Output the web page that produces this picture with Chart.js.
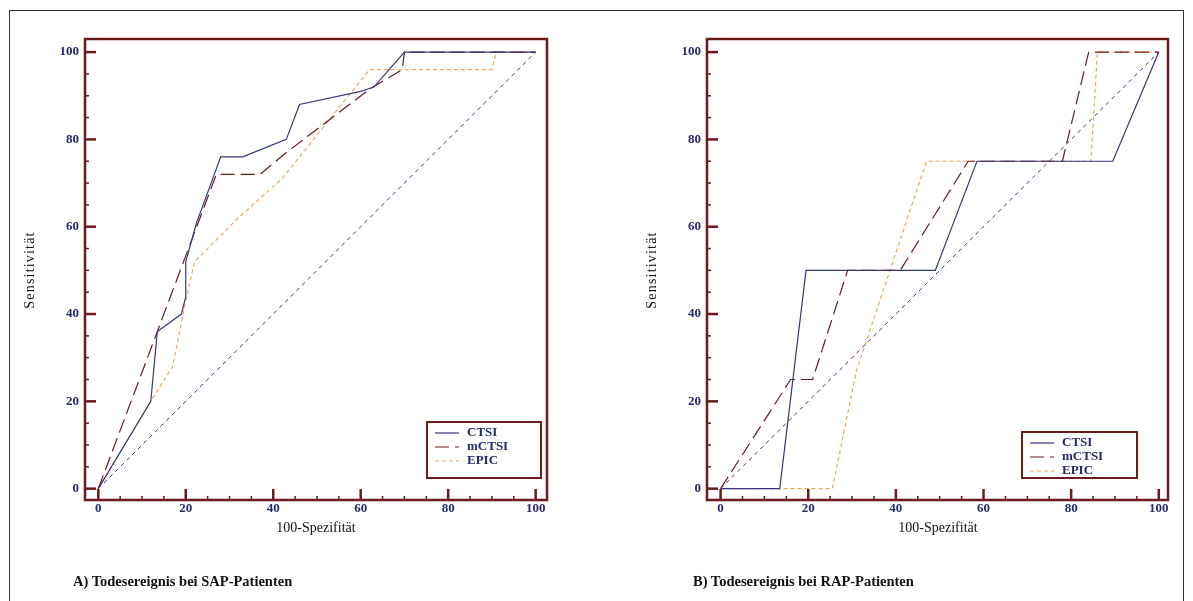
<!DOCTYPE html>
<html>
<head>
<meta charset="utf-8">
<title>ROC-Kurven Todesereignis</title>
<script src="https://cdn.jsdelivr.net/npm/chart.js"></script>
<style>
  body { margin: 0; background: #fff; font-family: "Liberation Serif", "DejaVu Serif", serif; }
  #frame { position: absolute; left: 9px; top: 10px; width: 1175px; height: 600px; border: 1px solid #333; box-sizing: border-box; }
  canvas { position: absolute; top: 0; }
  .xtitle, .ytitle { position: absolute; font-size: 14px; color: #111; width: 200px; text-align: center; line-height: 16px; }
  .ytitle { transform: rotate(-90deg); letter-spacing: 1.2px; }
  .caption { position: absolute; font-size: 14.5px; font-weight: bold; color: #111; line-height: 18px; }
</style>
</head>
<body>
  <div id="frame"></div>

  <canvas id="sapChart" width="596" height="601" style="left:0px"></canvas>
  <canvas id="rapChart" width="597" height="601" style="left:596px"></canvas>

  <!-- axis titles and captions -->
  <div class="ytitle" style="left:-70px; top:262px">Sensitivität</div>
  <div class="xtitle" style="left:216px; top:520px">100-Spezifität</div>
  <div class="caption" style="left:73px; top:572px">A) Todesereignis bei SAP-Patienten</div>

  <div class="ytitle" style="left:552px; top:262px">Sensitivität</div>
  <div class="xtitle" style="left:838px; top:520px">100-Spezifität</div>
  <div class="caption" style="left:693px; top:572px">B) Todesereignis bei RAP-Patienten</div>

<script>
  // ---- data ----
  const tickLabels = [0, 20, 40, 60, 80, 100];
  const tickMinor = [0, 5, 10, 15, 20, 25, 30, 35, 40, 45, 50, 55, 60, 65, 70, 75, 80, 85, 90, 95, 100];

  const seriesNames = ['CTSI', 'mCTSI', 'EPIC'];

  // A) SAP
  const sapCtsiX  = [0, 12, 13.5, 19, 20, 20, 22.5, 28, 33, 43, 46, 60, 63, 70, 100];
  const sapCtsiY  = [0, 20, 36, 40, 44, 52, 61, 76, 76, 80, 88, 91, 92, 100, 100];
  const sapMctsiX = [0, 13.5, 19.5, 27, 37, 43, 62, 69.5, 70, 100];
  const sapMctsiY = [0, 36, 52, 72, 72, 77, 91.5, 96, 100, 100];
  const sapEpicX  = [0, 12, 17, 20, 22, 24, 32, 42, 62, 90, 91, 100];
  const sapEpicY  = [0, 20, 28, 43, 52, 54, 62, 71, 96, 96, 100, 100];

  // B) RAP
  const rapCtsiX  = [0, 13.5, 19.5, 49, 58.5, 89.5, 100];
  const rapCtsiY  = [0, 0, 50, 50, 75, 75, 100];
  const rapMctsiX = [0, 16, 21, 29, 41, 56.5, 78, 84, 100];
  const rapMctsiY = [0, 25, 25, 50, 50, 75, 75, 100, 100];
  const rapEpicX  = [0, 25.5, 31, 47, 84.5, 86, 100];
  const rapEpicY  = [0, 0, 27, 75, 75, 100, 100];

  // reference diagonal
  const diagX = [0, 100];
  const diagY = [0, 100];

  // ---- styles ----
  const NAVY = '#33377f';
  const MAROON = '#6c1a1a';
  const ORANGE = '#f2a65a';
  const LABEL = '#262a6c';

  function pts(xs, ys) {
    return xs.map((x, i) => ({ x: x, y: ys[i] }));
  }

  // border, inward ticks and the boxed legend
  const framePlugin = {
    id: 'frame',
    afterDraw(chart, args, opts) {
      const ctx = chart.ctx;
      const a = chart.chartArea;
      const xs = chart.scales.x, ys = chart.scales.y;
      ctx.save();
      ctx.strokeStyle = MAROON;
      tickMinor.forEach(v => {
        const major = v % 20 === 0;
        const len = major ? 11 : 4;
        ctx.lineWidth = major ? 2.5 : 1.5;
        const px = xs.getPixelForValue(v);
        ctx.beginPath(); ctx.moveTo(px, a.bottom); ctx.lineTo(px, a.bottom - len); ctx.stroke();
        const py = ys.getPixelForValue(v);
        ctx.beginPath(); ctx.moveTo(a.left, py); ctx.lineTo(a.left + len, py); ctx.stroke();
      });
      ctx.lineWidth = 2.5;
      ctx.strokeRect(a.left, a.top, a.right - a.left, a.bottom - a.top);

      // legend
      const b = opts.box;
      ctx.fillStyle = '#fff';
      ctx.fillRect(b.left, b.top, b.width, b.height);
      ctx.lineWidth = 2;
      ctx.strokeRect(b.left, b.top, b.width, b.height);
      ctx.font = 'bold 13px "Liberation Serif", serif';
      ctx.textBaseline = 'middle';
      let row = 0;
      chart.data.datasets.forEach(ds => {
        if (!ds.label) return;
        const yy = b.top + b.first + row * 14;
        ctx.strokeStyle = ds.borderColor;
        ctx.lineWidth = ds.borderWidth;
        ctx.setLineDash(ds.borderDash || []);
        ctx.beginPath(); ctx.moveTo(b.left + 8, yy); ctx.lineTo(b.left + 32, yy); ctx.stroke();
        ctx.setLineDash([]);
        ctx.fillStyle = LABEL;
        ctx.fillText(ds.label, b.left + 40, yy);
        row++;
      });
      ctx.restore();
    }
  };

  function makePanel(id, ctsi, mctsi, epic, pad, xMin, xMax, box) {
    const datasets = [
      { label: seriesNames[0], data: ctsi, borderColor: NAVY, borderWidth: 1.2, borderDash: [] },
      { label: seriesNames[1], data: mctsi, borderColor: MAROON, borderWidth: 1.2, borderDash: [14, 6] },
      { label: seriesNames[2], data: epic, borderColor: ORANGE, borderWidth: 1.2, borderDash: [4, 3] },
      { label: '', data: pts(diagX, diagY), borderColor: NAVY, borderWidth: 1, borderDash: [4, 4] }
    ];
    datasets.forEach(d => { d.showLine = true; d.pointRadius = 0; d.tension = 0; d.fill = false; });

    const tickFont = { family: '"Liberation Serif", serif', size: 13, weight: 'bold' };

    return new Chart(document.getElementById(id), {
      type: 'scatter',
      data: { datasets: datasets },
      plugins: [framePlugin],
      options: {
        responsive: false,
        animation: false,
        layout: { padding: { left: pad.left, right: pad.right, top: 39, bottom: 0 } },
        plugins: {
          legend: { display: false },
          tooltip: { enabled: false },
          frame: { box: box }
        },
        scales: {
          x: {
            type: 'linear', min: xMin, max: xMax,
            afterBuildTicks: s => { s.ticks = tickLabels.map(v => ({ value: v })); },
            afterFit: s => { s.height = 101; },
            grid: { display: false, drawTicks: false, tickLength: 0 },
            border: { display: false },
            ticks: { color: LABEL, padding: 1, maxRotation: 0, autoSkip: false, font: tickFont }
          },
          y: {
            type: 'linear', min: -2.6, max: 103,
            afterBuildTicks: s => { s.ticks = tickLabels.map(v => ({ value: v })); },
            afterFit: s => { s.width = 62; },
            grid: { display: false, drawTicks: false, tickLength: 0 },
            border: { display: false },
            ticks: { color: LABEL, padding: 6, autoSkip: false, font: tickFont }
          }
        }
      }
    });
  }

  makePanel('sapChart',
    pts(sapCtsiX, sapCtsiY), pts(sapMctsiX, sapMctsiY), pts(sapEpicX, sapEpicY),
    { left: 23, right: 49 }, -3.04, 102.6,
    { left: 427, top: 422, width: 114, height: 56, first: 11 });

  makePanel('rapChart',
    pts(rapCtsiX, rapCtsiY), pts(rapMctsiX, rapMctsiY), pts(rapEpicX, rapEpicY),
    { left: 49, right: 25 }, -3.1, 102.1,
    { left: 426, top: 432, width: 115, height: 46, first: 11 });
</script>
</body>
</html>
